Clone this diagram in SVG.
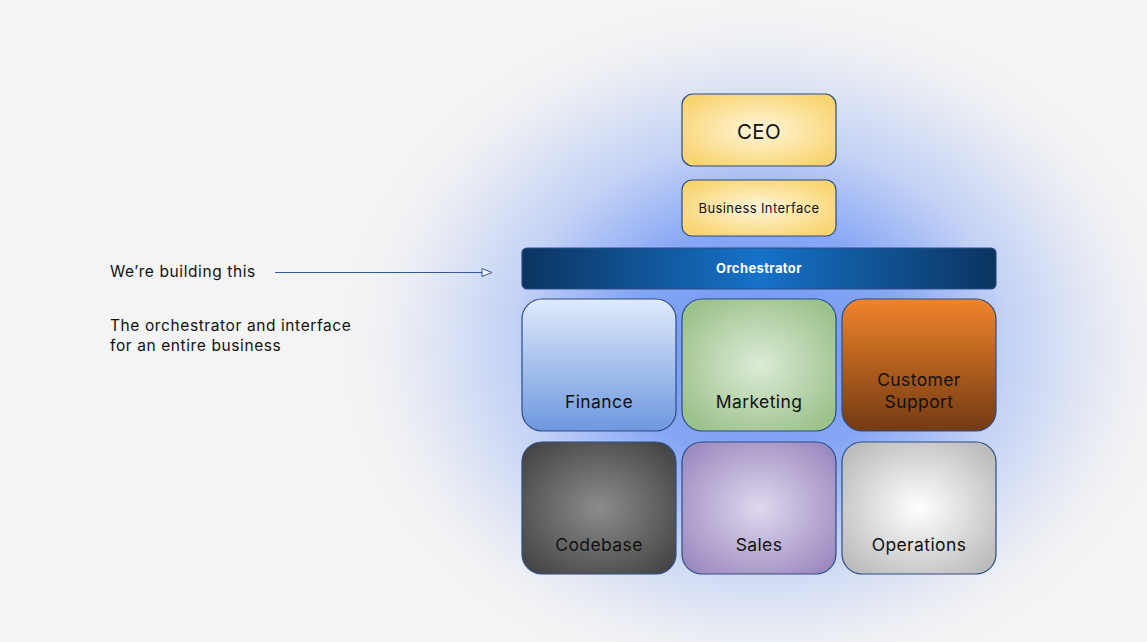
<svg xmlns="http://www.w3.org/2000/svg" width="1147" height="642" viewBox="0 0 1147 642">
<defs>
<radialGradient id="glow" cx="760" cy="345" r="430" gradientUnits="userSpaceOnUse" gradientTransform="translate(760 345) scale(1 0.82) translate(-760 -345)">
<stop offset="0" stop-color="#6f95f5"/>
<stop offset="0.33" stop-color="#86a6f5"/>
<stop offset="0.58" stop-color="#c4d2f5"/>
<stop offset="0.8" stop-color="#e6eaf4"/>
<stop offset="1" stop-color="#f4f4f4" stop-opacity="0"/>
</radialGradient>
<radialGradient id="gYellow" cx="0.5" cy="0.5" r="0.6">
<stop offset="0" stop-color="#fff6da"/>
<stop offset="1" stop-color="#f8d470"/>
</radialGradient>
<linearGradient id="gOrch" x1="0" y1="0" x2="1" y2="0">
<stop offset="0" stop-color="#0b3460"/>
<stop offset="0.5" stop-color="#1672c9"/>
<stop offset="1" stop-color="#0b3460"/>
</linearGradient>
<linearGradient id="gFin" x1="0" y1="0" x2="0" y2="1">
<stop offset="0" stop-color="#e0eafb"/>
<stop offset="1" stop-color="#6d98df"/>
</linearGradient>
<radialGradient id="gMkt" cx="0.5" cy="0.5" r="0.6">
<stop offset="0" stop-color="#dcebd6"/>
<stop offset="1" stop-color="#9cc28c"/>
</radialGradient>
<linearGradient id="gCS" x1="0" y1="0" x2="0" y2="1">
<stop offset="0" stop-color="#f0842a"/>
<stop offset="1" stop-color="#733a12"/>
</linearGradient>
<radialGradient id="gCode" cx="0.5" cy="0.5" r="0.62">
<stop offset="0" stop-color="#8c8c8c"/>
<stop offset="1" stop-color="#474747"/>
</radialGradient>
<radialGradient id="gSales" cx="0.5" cy="0.5" r="0.62">
<stop offset="0" stop-color="#e0d8ee"/>
<stop offset="1" stop-color="#9d8bc0"/>
</radialGradient>
<radialGradient id="gOps" cx="0.5" cy="0.5" r="0.62">
<stop offset="0" stop-color="#ffffff"/>
<stop offset="1" stop-color="#bcbcbc"/>
</radialGradient>
<marker id="arr" markerWidth="12" markerHeight="10" refX="11" refY="5" orient="auto" markerUnits="userSpaceOnUse">
<path d="M1,1 L11,5 L1,9 Z" fill="#f4f4f4" stroke="#34589a" stroke-width="1"/>
</marker>
</defs>
<style>
.box{stroke:#2c4d86;stroke-width:1.2}
.t{font-family:Inter,"Noto Sans","Liberation Sans",sans-serif;fill:#111;text-anchor:middle;letter-spacing:0.4px}
.lbl{font-family:Inter,"Noto Sans","Liberation Sans",sans-serif;fill:#111;font-size:15.5px;letter-spacing:0.6px}
</style>
<rect x="0" y="0" width="1147" height="642" fill="#f4f4f4"/>
<rect x="0" y="0" width="1147" height="642" fill="url(#glow)"/>

<g id="annotation">
<text class="lbl" x="110" y="277">We’re building this</text>
<text class="lbl" x="110" y="331">The orchestrator and interface</text>
<text class="lbl" x="110" y="351">for an entire business</text>
</g>

<g id="connectors">
<line x1="275" y1="272.5" x2="492" y2="272.5" stroke="#34589a" stroke-width="1" marker-end="url(#arr)"/>
</g>

<g id="ceo">
<rect class="box" x="682" y="94" width="154" height="72" rx="11" fill="url(#gYellow)"/>
<text class="t" x="759" y="139" font-size="20.5">CEO</text>
</g>
<g id="business-interface">
<rect class="box" x="682" y="180" width="154" height="56" rx="10" fill="url(#gYellow)"/>
<text class="t" x="759" y="213" font-size="13">Business Interface</text>
</g>
<g id="orchestrator">
<rect class="box" x="522" y="248" width="474" height="41" rx="5" fill="url(#gOrch)"/>
<text class="t" x="759" y="273" font-size="13" font-weight="700" style="fill:#fff">Orchestrator</text>
</g>
<g id="finance">
<rect class="box" x="522" y="299" width="154" height="132" rx="20" fill="url(#gFin)"/>
<text class="t" x="599" y="408" font-size="17.5">Finance</text>
</g>
<g id="marketing">
<rect class="box" x="682" y="299" width="154" height="132" rx="20" fill="url(#gMkt)"/>
<text class="t" x="759" y="408" font-size="17.5">Marketing</text>
</g>
<g id="customer-support">
<rect class="box" x="842" y="299" width="154" height="132" rx="20" fill="url(#gCS)"/>
<text class="t" x="919" y="386" font-size="17.5">Customer</text>
<text class="t" x="919" y="408" font-size="17.5">Support</text>
</g>
<g id="codebase">
<rect class="box" x="522" y="442" width="154" height="132" rx="20" fill="url(#gCode)"/>
<text class="t" x="599" y="551" font-size="17.5">Codebase</text>
</g>
<g id="sales">
<rect class="box" x="682" y="442" width="154" height="132" rx="20" fill="url(#gSales)"/>
<text class="t" x="759" y="551" font-size="17.5">Sales</text>
</g>
<g id="operations">
<rect class="box" x="842" y="442" width="154" height="132" rx="20" fill="url(#gOps)"/>
<text class="t" x="919" y="551" font-size="17.5">Operations</text>
</g>
</svg>
